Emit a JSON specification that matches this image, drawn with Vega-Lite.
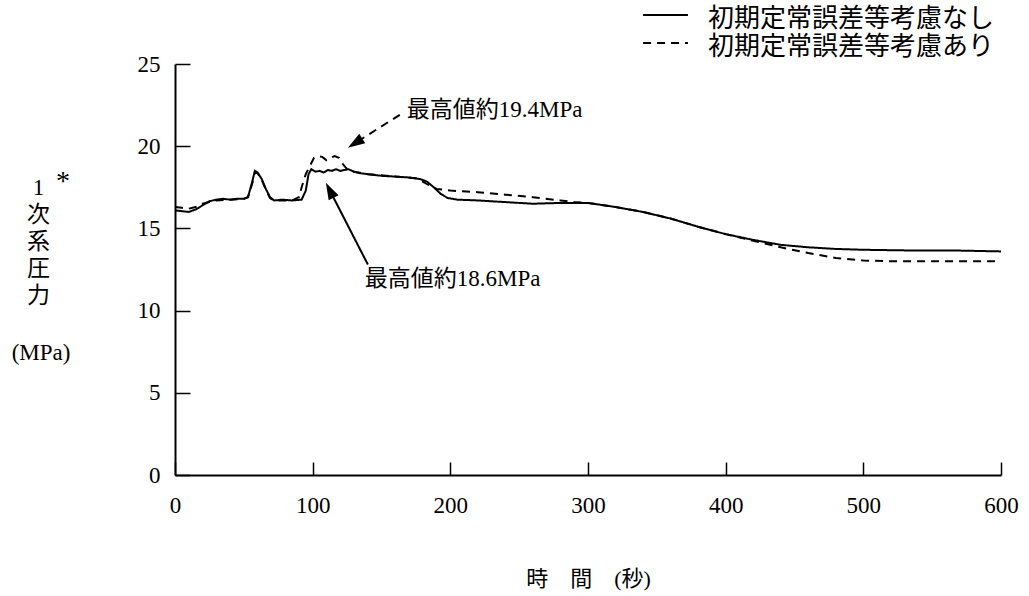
{
  "$schema": "https://vega.github.io/schema/vega-lite/v6.json",
  "width": 826,
  "height": 411,
  "autosize": "none",
  "padding": {"left": 175, "top": 64, "right": 28, "bottom": 121},
  "background": "white",
  "config": {"view": {"stroke": null}, "font": "Liberation Serif"},
  "datasets": {
    "curves": [
      {"series": "初期定常誤差等考慮なし", "t": 0, "p": 16.1},
      {"series": "初期定常誤差等考慮なし", "t": 5, "p": 16.05},
      {"series": "初期定常誤差等考慮なし", "t": 10, "p": 16.0},
      {"series": "初期定常誤差等考慮なし", "t": 15, "p": 16.15},
      {"series": "初期定常誤差等考慮なし", "t": 20, "p": 16.4},
      {"series": "初期定常誤差等考慮なし", "t": 25, "p": 16.65},
      {"series": "初期定常誤差等考慮なし", "t": 30, "p": 16.75},
      {"series": "初期定常誤差等考慮なし", "t": 35, "p": 16.8},
      {"series": "初期定常誤差等考慮なし", "t": 40, "p": 16.75},
      {"series": "初期定常誤差等考慮なし", "t": 45, "p": 16.8},
      {"series": "初期定常誤差等考慮なし", "t": 50, "p": 16.8},
      {"series": "初期定常誤差等考慮なし", "t": 53, "p": 16.9},
      {"series": "初期定常誤差等考慮なし", "t": 56, "p": 17.8},
      {"series": "初期定常誤差等考慮なし", "t": 58, "p": 18.5},
      {"series": "初期定常誤差等考慮なし", "t": 60, "p": 18.4},
      {"series": "初期定常誤差等考慮なし", "t": 63, "p": 18.0},
      {"series": "初期定常誤差等考慮なし", "t": 66, "p": 17.4},
      {"series": "初期定常誤差等考慮なし", "t": 69, "p": 16.9},
      {"series": "初期定常誤差等考慮なし", "t": 72, "p": 16.7},
      {"series": "初期定常誤差等考慮なし", "t": 78, "p": 16.75},
      {"series": "初期定常誤差等考慮なし", "t": 85, "p": 16.7},
      {"series": "初期定常誤差等考慮なし", "t": 92, "p": 16.75},
      {"series": "初期定常誤差等考慮なし", "t": 95, "p": 17.3},
      {"series": "初期定常誤差等考慮なし", "t": 97, "p": 18.3},
      {"series": "初期定常誤差等考慮なし", "t": 99, "p": 18.6},
      {"series": "初期定常誤差等考慮なし", "t": 102, "p": 18.45},
      {"series": "初期定常誤差等考慮なし", "t": 105, "p": 18.5},
      {"series": "初期定常誤差等考慮なし", "t": 108, "p": 18.4},
      {"series": "初期定常誤差等考慮なし", "t": 111, "p": 18.55},
      {"series": "初期定常誤差等考慮なし", "t": 114, "p": 18.5},
      {"series": "初期定常誤差等考慮なし", "t": 117, "p": 18.6},
      {"series": "初期定常誤差等考慮なし", "t": 120, "p": 18.5},
      {"series": "初期定常誤差等考慮なし", "t": 123, "p": 18.55},
      {"series": "初期定常誤差等考慮なし", "t": 126, "p": 18.6},
      {"series": "初期定常誤差等考慮なし", "t": 130, "p": 18.45},
      {"series": "初期定常誤差等考慮なし", "t": 135, "p": 18.35},
      {"series": "初期定常誤差等考慮なし", "t": 140, "p": 18.3},
      {"series": "初期定常誤差等考慮なし", "t": 145, "p": 18.25},
      {"series": "初期定常誤差等考慮なし", "t": 150, "p": 18.2},
      {"series": "初期定常誤差等考慮なし", "t": 160, "p": 18.15},
      {"series": "初期定常誤差等考慮なし", "t": 170, "p": 18.1},
      {"series": "初期定常誤差等考慮なし", "t": 178, "p": 18.0},
      {"series": "初期定常誤差等考慮なし", "t": 183, "p": 17.85},
      {"series": "初期定常誤差等考慮なし", "t": 188, "p": 17.5},
      {"series": "初期定常誤差等考慮なし", "t": 193, "p": 17.1},
      {"series": "初期定常誤差等考慮なし", "t": 198, "p": 16.85},
      {"series": "初期定常誤差等考慮なし", "t": 205, "p": 16.75},
      {"series": "初期定常誤差等考慮なし", "t": 220, "p": 16.7},
      {"series": "初期定常誤差等考慮なし", "t": 240, "p": 16.6},
      {"series": "初期定常誤差等考慮なし", "t": 260, "p": 16.5},
      {"series": "初期定常誤差等考慮なし", "t": 280, "p": 16.55},
      {"series": "初期定常誤差等考慮なし", "t": 300, "p": 16.55},
      {"series": "初期定常誤差等考慮なし", "t": 320, "p": 16.3},
      {"series": "初期定常誤差等考慮なし", "t": 340, "p": 16.0},
      {"series": "初期定常誤差等考慮なし", "t": 360, "p": 15.6},
      {"series": "初期定常誤差等考慮なし", "t": 380, "p": 15.1},
      {"series": "初期定常誤差等考慮なし", "t": 400, "p": 14.65},
      {"series": "初期定常誤差等考慮なし", "t": 420, "p": 14.3},
      {"series": "初期定常誤差等考慮なし", "t": 440, "p": 14.0},
      {"series": "初期定常誤差等考慮なし", "t": 460, "p": 13.85},
      {"series": "初期定常誤差等考慮なし", "t": 480, "p": 13.75},
      {"series": "初期定常誤差等考慮なし", "t": 500, "p": 13.7},
      {"series": "初期定常誤差等考慮なし", "t": 540, "p": 13.65},
      {"series": "初期定常誤差等考慮なし", "t": 570, "p": 13.65},
      {"series": "初期定常誤差等考慮なし", "t": 600, "p": 13.6},
      {"series": "初期定常誤差等考慮あり", "t": 0, "p": 16.3},
      {"series": "初期定常誤差等考慮あり", "t": 5, "p": 16.25},
      {"series": "初期定常誤差等考慮あり", "t": 10, "p": 16.2},
      {"series": "初期定常誤差等考慮あり", "t": 15, "p": 16.3},
      {"series": "初期定常誤差等考慮あり", "t": 20, "p": 16.5},
      {"series": "初期定常誤差等考慮あり", "t": 25, "p": 16.6},
      {"series": "初期定常誤差等考慮あり", "t": 30, "p": 16.7},
      {"series": "初期定常誤差等考慮あり", "t": 40, "p": 16.75},
      {"series": "初期定常誤差等考慮あり", "t": 50, "p": 16.8},
      {"series": "初期定常誤差等考慮あり", "t": 53, "p": 16.9},
      {"series": "初期定常誤差等考慮あり", "t": 56, "p": 17.7},
      {"series": "初期定常誤差等考慮あり", "t": 58, "p": 18.4},
      {"series": "初期定常誤差等考慮あり", "t": 60, "p": 18.35},
      {"series": "初期定常誤差等考慮あり", "t": 63, "p": 17.95},
      {"series": "初期定常誤差等考慮あり", "t": 66, "p": 17.35},
      {"series": "初期定常誤差等考慮あり", "t": 69, "p": 16.85},
      {"series": "初期定常誤差等考慮あり", "t": 72, "p": 16.7},
      {"series": "初期定常誤差等考慮あり", "t": 85, "p": 16.7},
      {"series": "初期定常誤差等考慮あり", "t": 90, "p": 16.9},
      {"series": "初期定常誤差等考慮あり", "t": 92, "p": 17.5},
      {"series": "初期定常誤差等考慮あり", "t": 95, "p": 18.3},
      {"series": "初期定常誤差等考慮あり", "t": 98, "p": 18.8},
      {"series": "初期定常誤差等考慮あり", "t": 101, "p": 19.3},
      {"series": "初期定常誤差等考慮あり", "t": 104, "p": 19.4},
      {"series": "初期定常誤差等考慮あり", "t": 107, "p": 19.35},
      {"series": "初期定常誤差等考慮あり", "t": 110, "p": 19.15},
      {"series": "初期定常誤差等考慮あり", "t": 113, "p": 19.3},
      {"series": "初期定常誤差等考慮あり", "t": 116, "p": 19.4},
      {"series": "初期定常誤差等考慮あり", "t": 119, "p": 19.3},
      {"series": "初期定常誤差等考慮あり", "t": 122, "p": 18.9},
      {"series": "初期定常誤差等考慮あり", "t": 125, "p": 18.6},
      {"series": "初期定常誤差等考慮あり", "t": 130, "p": 18.45},
      {"series": "初期定常誤差等考慮あり", "t": 140, "p": 18.3},
      {"series": "初期定常誤差等考慮あり", "t": 160, "p": 18.15},
      {"series": "初期定常誤差等考慮あり", "t": 175, "p": 18.05},
      {"series": "初期定常誤差等考慮あり", "t": 180, "p": 17.85},
      {"series": "初期定常誤差等考慮あり", "t": 185, "p": 17.6},
      {"series": "初期定常誤差等考慮あり", "t": 190, "p": 17.4},
      {"series": "初期定常誤差等考慮あり", "t": 195, "p": 17.35},
      {"series": "初期定常誤差等考慮あり", "t": 200, "p": 17.3},
      {"series": "初期定常誤差等考慮あり", "t": 220, "p": 17.2},
      {"series": "初期定常誤差等考慮あり", "t": 240, "p": 17.05},
      {"series": "初期定常誤差等考慮あり", "t": 260, "p": 16.9},
      {"series": "初期定常誤差等考慮あり", "t": 280, "p": 16.7},
      {"series": "初期定常誤差等考慮あり", "t": 290, "p": 16.6},
      {"series": "初期定常誤差等考慮あり", "t": 300, "p": 16.55},
      {"series": "初期定常誤差等考慮あり", "t": 320, "p": 16.3},
      {"series": "初期定常誤差等考慮あり", "t": 340, "p": 16.0},
      {"series": "初期定常誤差等考慮あり", "t": 360, "p": 15.6},
      {"series": "初期定常誤差等考慮あり", "t": 380, "p": 15.1},
      {"series": "初期定常誤差等考慮あり", "t": 400, "p": 14.65},
      {"series": "初期定常誤差等考慮あり", "t": 420, "p": 14.25},
      {"series": "初期定常誤差等考慮あり", "t": 440, "p": 13.85},
      {"series": "初期定常誤差等考慮あり", "t": 460, "p": 13.5},
      {"series": "初期定常誤差等考慮あり", "t": 480, "p": 13.2},
      {"series": "初期定常誤差等考慮あり", "t": 500, "p": 13.05},
      {"series": "初期定常誤差等考慮あり", "t": 520, "p": 13.0},
      {"series": "初期定常誤差等考慮あり", "t": 600, "p": 13.0}
    ],
    "legendRows": [
      {"series": "初期定常誤差等考慮なし", "lx": 340.0, "lx2": 372.6, "ly": 27.98, "tx": 387.2, "ty": 27.74},
      {"series": "初期定常誤差等考慮あり", "lx": 340.0, "lx2": 372.6, "ly": 26.28, "tx": 387.2, "ty": 26.03}
    ],
    "arrows": [
      {"kind": "dashed", "x": 163.3, "y": 21.91, "x2": 130.8, "y2": 20.19},
      {"kind": "solid", "x": 140.1, "y": 12.8, "x2": 112.4, "y2": 17.32}
    ],
    "notes": [
      {"label": "最高値約19.4MPa", "x": 168.4, "y": 22.2},
      {"label": "最高値約18.6MPa", "x": 137.9, "y": 11.9}
    ],
    "ylab": [
      {"k": "star", "label": "*", "x": -81.3, "y": 17.84},
      {"k": "unit", "label": "(MPa)", "x": -97.3, "y": 7.45}
    ]
  },
  "layer": [
    {
      "data": {"name": "curves"},
      "mark": {"type": "line", "strokeWidth": 2, "color": "black", "interpolate": "linear"},
      "encoding": {
        "x": {
          "field": "t", "type": "quantitative",
          "scale": {"domain": [0, 600], "nice": false, "zero": false},
          "axis": {
            "values": [0, 100, 200, 300, 400, 500, 600],
            "title": "時　間　(秒)",
            "titleFont": "Liberation Serif, Noto Sans CJK JP",
            "titleFontSize": 22, "titleFontWeight": "normal", "titleColor": "black",
            "titleBaseline": "middle", "titleY": 103,
            "labelFont": "Liberation Serif", "labelFontSize": 23, "labelColor": "black",
            "labelPadding": 32, "labelFlush": false,
            "domainColor": "black", "domainWidth": 2,
            "tickColor": "black", "tickWidth": 1.5, "tickSize": -13,
            "grid": false
          }
        },
        "y": {
          "field": "p", "type": "quantitative",
          "scale": {"domain": [0, 25], "nice": false},
          "axis": {
            "values": [0, 5, 10, 15, 20, 25],
            "title": ["1", "次", "系", "圧", "力"],
            "titleFont": "Liberation Serif, Noto Sans CJK JP",
            "titleFontSize": 23, "titleFontWeight": "normal", "titleColor": "black",
            "titleAngle": 0, "titleAlign": "center", "titleBaseline": "top",
            "titleLineHeight": 27, "titleX": -137, "titleY": 112,
            "labelFont": "Liberation Serif", "labelFontSize": 23, "labelColor": "black",
            "labelPadding": 30, "labelFlush": false,
            "domainColor": "black", "domainWidth": 2,
            "tickColor": "black", "tickWidth": 1.5, "tickSize": -15,
            "grid": false
          }
        },
        "strokeDash": {
          "field": "series", "type": "nominal",
          "scale": {"domain": ["初期定常誤差等考慮なし", "初期定常誤差等考慮あり"], "range": [[1, 0], [8, 6]]},
          "legend": null
        }
      }
    },
    {
      "data": {"name": "legendRows"},
      "mark": {"type": "rule", "color": "black", "strokeWidth": 2},
      "encoding": {
        "x": {"field": "lx", "type": "quantitative"},
        "x2": {"field": "lx2"},
        "y": {"field": "ly", "type": "quantitative"},
        "strokeDash": {"field": "series", "type": "nominal", "legend": null}
      }
    },
    {
      "data": {"name": "legendRows"},
      "mark": {"type": "text", "align": "left", "baseline": "middle", "font": "Noto Sans CJK JP", "fontSize": 26, "color": "black"},
      "encoding": {
        "x": {"field": "tx", "type": "quantitative"},
        "y": {"field": "ty", "type": "quantitative"},
        "text": {"field": "series"}
      }
    },
    {
      "data": {"name": "arrows"},
      "transform": [{"filter": "datum.kind === 'dashed'"}],
      "mark": {"type": "rule", "color": "black", "strokeWidth": 2, "strokeDash": [8, 6]},
      "encoding": {
        "x": {"field": "x", "type": "quantitative"},
        "y": {"field": "y", "type": "quantitative"},
        "x2": {"field": "x2"},
        "y2": {"field": "y2"}
      }
    },
    {
      "data": {"name": "arrows"},
      "transform": [{"filter": "datum.kind === 'solid'"}],
      "mark": {"type": "rule", "color": "black", "strokeWidth": 2},
      "encoding": {
        "x": {"field": "x", "type": "quantitative"},
        "y": {"field": "y", "type": "quantitative"},
        "x2": {"field": "x2"},
        "y2": {"field": "y2"}
      }
    },
    {
      "data": {"name": "arrows"},
      "transform": [{"filter": "datum.kind === 'dashed'"}],
      "mark": {"type": "point", "shape": "M0,-1L0.65,1L-0.65,1Z", "filled": true, "color": "black", "opacity": 1, "size": 289, "angle": 237.6},
      "encoding": {
        "x": {"field": "x2", "type": "quantitative"},
        "y": {"field": "y2", "type": "quantitative"}
      }
    },
    {
      "data": {"name": "arrows"},
      "transform": [{"filter": "datum.kind === 'solid'"}],
      "mark": {"type": "point", "shape": "M0,-1L0.65,1L-0.65,1Z", "filled": true, "color": "black", "opacity": 1, "size": 289, "angle": 332.9},
      "encoding": {
        "x": {"field": "x2", "type": "quantitative"},
        "y": {"field": "y2", "type": "quantitative"}
      }
    },
    {
      "data": {"name": "notes"},
      "mark": {"type": "text", "align": "left", "baseline": "middle", "font": "Liberation Serif, Noto Sans CJK JP", "fontSize": 23, "color": "black"},
      "encoding": {
        "x": {"field": "x", "type": "quantitative"},
        "y": {"field": "y", "type": "quantitative"},
        "text": {"field": "label"}
      }
    },
    {
      "data": {"name": "ylab"},
      "transform": [{"filter": "datum.k === 'star'"}],
      "mark": {"type": "text", "align": "center", "baseline": "middle", "font": "Liberation Serif", "fontSize": 28, "color": "black"},
      "encoding": {
        "x": {"field": "x", "type": "quantitative"},
        "y": {"field": "y", "type": "quantitative"},
        "text": {"field": "label"}
      }
    },
    {
      "data": {"name": "ylab"},
      "transform": [{"filter": "datum.k === 'unit'"}],
      "mark": {"type": "text", "align": "center", "baseline": "middle", "font": "Liberation Serif", "fontSize": 23, "color": "black"},
      "encoding": {
        "x": {"field": "x", "type": "quantitative"},
        "y": {"field": "y", "type": "quantitative"},
        "text": {"field": "label"}
      }
    }
  ]
}
